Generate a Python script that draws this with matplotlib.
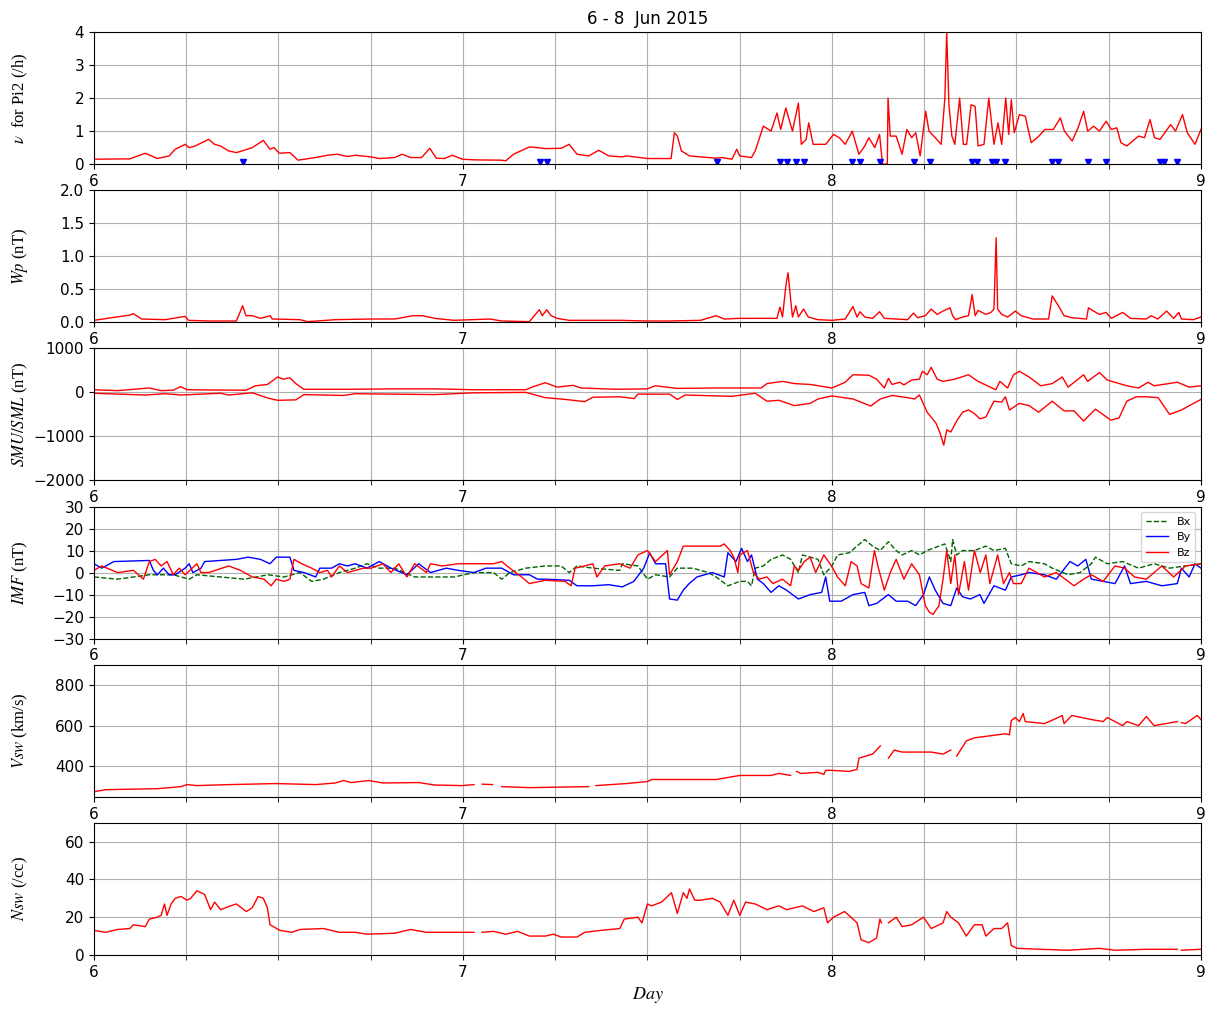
import numpy as np
import matplotlib
matplotlib.use("Agg")
import matplotlib.pyplot as plt
from matplotlib.ticker import MultipleLocator

nan = np.nan

# Pi2 occurrence rate (/h)
nu_t = [6.000, 6.097, 6.139, 6.172, 6.204, 6.220, 6.247, 6.258, 6.274, 6.311, 6.327, 6.343, 6.365,
        6.386, 6.401, 6.429, 6.459, 6.477, 6.488, 6.502, 6.531, 6.553, 6.601, 6.633, 6.660, 6.687,
        6.708, 6.751, 6.773, 6.815, 6.835, 6.858, 6.888, 6.910, 6.928, 6.950, 6.971, 6.998, 7.030,
        7.105, 7.116, 7.137, 7.180, 7.202, 7.223, 7.266, 7.288, 7.309, 7.341, 7.368, 7.395, 7.432,
        7.443, 7.500, 7.564, 7.573, 7.581, 7.592, 7.614, 7.686, 7.702, 7.729, 7.742, 7.750, 7.782,
        7.792, 7.814, 7.835, 7.851, 7.861, 7.875, 7.893, 7.909, 7.917, 7.930, 7.937, 7.949, 7.962,
        7.983, 8.004, 8.020, 8.036, 8.055, 8.073, 8.089, 8.100, 8.116, 8.129, 8.137, 8.150, 8.152,
        8.158, 8.174, 8.190, 8.203, 8.216, 8.227, 8.239, 8.254, 8.263, 8.280, 8.296, 8.306, 8.311,
        8.317, 8.325, 8.333, 8.346, 8.356, 8.365, 8.377, 8.388, 8.396, 8.412, 8.425, 8.439, 8.450,
        8.460, 8.471, 8.479, 8.486, 8.494, 8.508, 8.524, 8.540, 8.561, 8.577, 8.600, 8.619, 8.630,
        8.651, 8.667, 8.682, 8.693, 8.709, 8.725, 8.743, 8.757, 8.772, 8.783, 8.799, 8.831, 8.847,
        8.862, 8.874, 8.889, 8.918, 8.931, 8.950, 8.963, 8.984, 9.000]
nu_v = [0.15, 0.16, 0.33, 0.17, 0.25, 0.45, 0.60, 0.50, 0.55, 0.75, 0.60, 0.55, 0.40,
        0.35, 0.40, 0.50, 0.72, 0.45, 0.50, 0.33, 0.35, 0.12, 0.20, 0.27, 0.30, 0.23,
        0.27, 0.22, 0.17, 0.20, 0.30, 0.20, 0.20, 0.48, 0.18, 0.17, 0.27, 0.15, 0.13,
        0.12, 0.10, 0.30, 0.52, 0.50, 0.47, 0.48, 0.60, 0.30, 0.25, 0.42, 0.25, 0.22,
        0.25, 0.17, 0.17, 0.95, 0.85, 0.40, 0.25, 0.18, 0.20, 0.15, 0.45, 0.25, 0.20,
        0.40, 1.15, 1.00, 1.55, 1.05, 1.70, 1.00, 1.85, 0.60, 0.75, 1.25, 0.60, 0.60,
        0.60, 0.90, 0.80, 0.60, 1.00, 0.30, 0.55, 0.80, 0.50, 0.90, 0.00, 0.00, 2.00,
        0.85, 0.85, 0.30, 1.05, 0.80, 0.95, 0.25, 1.60, 1.00, 0.80, 0.60, 2.00, 4.00,
        1.80, 0.85, 0.60, 2.00, 0.60, 0.60, 1.80, 1.75, 0.55, 0.60, 2.00, 0.60, 1.25,
        0.60, 2.00, 0.90, 1.95, 0.95, 1.50, 1.45, 0.65, 0.85, 1.05, 1.05, 1.40, 1.00,
        0.70, 1.10, 1.60, 1.00, 1.15, 1.00, 1.30, 1.05, 1.10, 0.65, 0.55, 0.85, 0.80,
        1.35, 0.80, 0.75, 1.20, 1.00, 1.50, 0.95, 0.60, 1.05]

# Pi2 onsets (blue triangles)
pi2_onsets = [6.403, 7.209, 7.228, 7.688, 7.860, 7.878, 7.902, 7.924, 8.054, 8.076, 8.130,
              8.221, 8.265, 8.380, 8.393, 8.433, 8.445, 8.470, 8.597, 8.612, 8.693, 8.743,
              8.888, 8.899, 8.935]
onset_level = 0.08

# Wp index (nT)
wp_t = [6.000, 6.097, 6.107, 6.129, 6.193, 6.247, 6.256, 6.311, 6.386, 6.403, 6.412, 6.429, 6.451,
        6.478, 6.483, 6.558, 6.579, 6.654, 6.751, 6.815, 6.864, 6.891, 6.923, 6.976, 7.073, 7.105,
        7.180, 7.207, 7.215, 7.227, 7.239, 7.255, 7.288, 7.427, 7.496, 7.560, 7.644, 7.686, 7.708,
        7.750, 7.851, 7.859, 7.866, 7.875, 7.881, 7.888, 7.893, 7.902, 7.909, 7.923, 7.936, 7.962,
        8.000, 8.036, 8.057, 8.068, 8.076, 8.089, 8.110, 8.129, 8.142, 8.174, 8.205, 8.221, 8.232,
        8.253, 8.269, 8.285, 8.301, 8.320, 8.327, 8.335, 8.354, 8.370, 8.380, 8.388, 8.396, 8.417,
        8.431, 8.439, 8.445, 8.449, 8.460, 8.476, 8.497, 8.513, 8.544, 8.587, 8.597, 8.619, 8.629,
        8.650, 8.690, 8.695, 8.709, 8.725, 8.743, 8.757, 8.788, 8.809, 8.852, 8.865, 8.883, 8.907,
        8.926, 8.940, 8.947, 8.979, 9.000]
wp_v = [0.03, 0.11, 0.13, 0.05, 0.04, 0.09, 0.03, 0.02, 0.02, 0.25, 0.10, 0.10, 0.06,
        0.10, 0.05, 0.04, 0.01, 0.04, 0.05, 0.05, 0.10, 0.10, 0.06, 0.03, 0.05, 0.02,
        0.01, 0.19, 0.10, 0.19, 0.10, 0.06, 0.03, 0.03, 0.02, 0.02, 0.03, 0.10, 0.05,
        0.06, 0.06, 0.23, 0.08, 0.55, 0.75, 0.35, 0.08, 0.25, 0.08, 0.20, 0.08, 0.04,
        0.03, 0.05, 0.24, 0.08, 0.16, 0.08, 0.06, 0.16, 0.06, 0.05, 0.04, 0.14, 0.07,
        0.10, 0.20, 0.12, 0.17, 0.22, 0.10, 0.04, 0.08, 0.10, 0.42, 0.10, 0.18, 0.12,
        0.15, 0.20, 1.28, 0.20, 0.12, 0.08, 0.17, 0.10, 0.05, 0.05, 0.40, 0.20, 0.10,
        0.07, 0.05, 0.22, 0.17, 0.12, 0.15, 0.06, 0.15, 0.06, 0.05, 0.10, 0.05, 0.17,
        0.06, 0.15, 0.05, 0.04, 0.08]

# SMU / SML (nT)
smu_t = [6.000, 6.064, 6.150, 6.182, 6.215, 6.234, 6.253, 6.386, 6.412, 6.438, 6.470, 6.498, 6.513,
         6.531, 6.547, 6.569, 6.687, 6.815, 6.923, 7.030, 7.170, 7.191, 7.223, 7.255, 7.298, 7.320,
         7.416, 7.500, 7.521, 7.581, 7.686, 7.808, 7.824, 7.866, 7.898, 7.941, 8.000, 8.036, 8.057,
         8.100, 8.121, 8.142, 8.153, 8.163, 8.184, 8.195, 8.216, 8.237, 8.245, 8.258, 8.269, 8.285,
         8.301, 8.333, 8.370, 8.396, 8.444, 8.455, 8.476, 8.492, 8.508, 8.534, 8.566, 8.597, 8.624,
         8.640, 8.682, 8.693, 8.725, 8.746, 8.799, 8.831, 8.857, 8.873, 8.936, 8.968, 9.000]
smu_v = [60, 40, 100, 40, 50, 130, 60, 50, 50, 150, 180, 350, 300,
         330, 200, 70, 70, 80, 80, 60, 60, 130, 220, 120, 160, 100,
         70, 80, 150, 90, 100, 100, 200, 250, 200, 180, 100, 230, 400,
         390, 300, 100, 320, 180, 230, 170, 280, 300, 480, 400, 570, 300,
         250, 300, 400, 250, 60, 250, 100, 400, 480, 350, 150, 200, 350,
         120, 400, 250, 450, 280, 150, 100, 230, 150, 230, 120, 150]
sml_t = [6.000, 6.139, 6.193, 6.236, 6.343, 6.365, 6.429, 6.472, 6.498, 6.547, 6.569, 6.676, 6.708,
         6.923, 7.030, 7.170, 7.223, 7.266, 7.288, 7.330, 7.352, 7.425, 7.464, 7.474, 7.560, 7.581,
         7.602, 7.686, 7.729, 7.792, 7.824, 7.856, 7.898, 7.941, 7.962, 8.000, 8.057, 8.105, 8.131,
         8.163, 8.205, 8.224, 8.237, 8.258, 8.282, 8.292, 8.303, 8.311, 8.322, 8.338, 8.354, 8.370,
         8.386, 8.401, 8.417, 8.439, 8.460, 8.470, 8.481, 8.508, 8.534, 8.560, 8.597, 8.629, 8.656,
         8.682, 8.714, 8.756, 8.778, 8.799, 8.825, 8.852, 8.884, 8.915, 8.947, 9.000]
sml_v = [-20, -60, -30, -60, -20, -60, -10, -130, -180, -170, -50, -70, -30,
         -50, -10, 0, -120, -150, -170, -210, -110, -100, -140, -40, -40, -160,
         -60, -80, -90, -20, -200, -180, -300, -250, -150, -80, -150, -310, -150,
         -70, -120, -150, -60, -450, -700, -900, -1200, -850, -900, -650, -450, -400,
         -480, -600, -560, -200, -220, -100, -400, -250, -300, -450, -200, -420, -420,
         -650, -380, -630, -580, -200, -100, -100, -120, -500, -400, -160]

# IMF components (nT)
bx_t = [6.000, 6.064, 6.150, 6.215, 6.258, 6.279, 6.343, 6.407, 6.472, 6.515, 6.558, 6.590, 6.622,
        6.665, 6.708, 6.740, 6.773, 6.815, 6.869, 6.923, 6.976, 7.030, 7.083, 7.105, 7.127, 7.170,
        7.223, 7.266, 7.288, 7.309, 7.352, 7.425, 7.432, 7.474, 7.500, 7.522, 7.560, 7.581, 7.623,
        7.665, 7.686, 7.718, 7.750, 7.771, 7.782, 7.792, 7.814, 7.835, 7.866, 7.888, 7.909, 7.920,
        7.962, 7.978, 8.000, 8.015, 8.047, 8.068, 8.089, 8.110, 8.131, 8.153, 8.174, 8.190, 8.216,
        8.237, 8.258, 8.290, 8.306, 8.322, 8.327, 8.338, 8.354, 8.386, 8.417, 8.439, 8.470, 8.486,
        8.513, 8.534, 8.576, 8.597, 8.640, 8.672, 8.703, 8.714, 8.746, 8.788, 8.831, 8.873, 8.915,
        8.958, 9.000]
bx_v = [-2, -3, -1, -1, -3, -1, -2, -3, -1, -2, 0, -4, -3,
        0, 2, 4, 2, 2, -2, -2, -2, 0, 0, -3, 0, 2,
        3, 3, 0, 3, 2, 1, 4, 3, -3, -1, -2, 2, 2,
        0, -2, -6, -4, -4, -6, 2, 3, 6, 8, 6, 0, 8,
        6, -1, 3, 8, 9, 12, 15, 12, 10, 14, 10, 8, 10,
        8, 10, 12, 13, 5, 15, 8, 10, 10, 12, 10, 11, 4,
        3, 5, 4, 2, -1, 0, 4, 7, 4, 5, 2, 4, 2,
        3, 4]
by_t = [6.000, 6.021, 6.054, 6.150, 6.161, 6.172, 6.188, 6.204, 6.220, 6.247, 6.258, 6.268, 6.290,
        6.300, 6.386, 6.418, 6.451, 6.477, 6.494, 6.531, 6.542, 6.569, 6.601, 6.612, 6.644, 6.665,
        6.687, 6.708, 6.740, 6.773, 6.805, 6.848, 6.880, 6.912, 6.955, 6.987, 7.030, 7.062, 7.105,
        7.137, 7.180, 7.202, 7.223, 7.288, 7.309, 7.352, 7.395, 7.432, 7.463, 7.490, 7.506, 7.522,
        7.549, 7.560, 7.581, 7.597, 7.613, 7.634, 7.655, 7.676, 7.708, 7.718, 7.740, 7.755, 7.771,
        7.782, 7.798, 7.814, 7.835, 7.856, 7.877, 7.909, 7.941, 7.972, 7.983, 7.994, 8.025, 8.057,
        8.089, 8.100, 8.121, 8.153, 8.174, 8.205, 8.227, 8.248, 8.264, 8.280, 8.301, 8.322, 8.338,
        8.354, 8.375, 8.401, 8.412, 8.439, 8.470, 8.486, 8.513, 8.534, 8.576, 8.608, 8.645, 8.666,
        8.688, 8.703, 8.735, 8.767, 8.793, 8.809, 8.852, 8.894, 8.936, 8.947, 8.968, 8.984, 9.000]
by_v = [4, 2, 5, 5.5, 1, -1, 2, -1, -1, 2, 4, 0, 2,
        5, 6, 7, 6, 4, 7, 7, 1, 0, -2, 2, 2, 4,
        3, 4, 2, 5, 2, -1, 4, 0, 2, 1, 0, 2, 2,
        -1, -1, -3, -3, -3.5, -6, -6, -5.5, -6.5, -4, 2, 9, 4,
        4, -12, -12.5, -8, -5, -2, -1, 0, -2, 9, 5, 11, 5,
        8, -3, -5, -9, -6, -8, -12, -10, -9, -2, -13, -13, -10,
        -9, -15, -14, -10, -13, -13, -15, -10, -2, -8, -14, -15, -7,
        -11, -12, -10, -14, -6, -8, -2, -1, 0, -1, -3, 5, 3,
        6, -3, -4, -5, 3, -5, -4, -6, -5, 2, -2, 4, 2]
bz_t = [6.000, 6.021, 6.064, 6.107, 6.134, 6.150, 6.166, 6.182, 6.198, 6.215, 6.231, 6.247, 6.279,
        6.290, 6.311, 6.365, 6.397, 6.429, 6.461, 6.480, 6.494, 6.515, 6.531, 6.542, 6.563, 6.590,
        6.612, 6.633, 6.644, 6.665, 6.687, 6.730, 6.751, 6.783, 6.805, 6.826, 6.848, 6.869, 6.901,
        6.912, 6.944, 6.987, 7.030, 7.083, 7.105, 7.127, 7.159, 7.180, 7.223, 7.277, 7.293, 7.304,
        7.330, 7.352, 7.363, 7.384, 7.425, 7.453, 7.474, 7.500, 7.522, 7.554, 7.560, 7.581, 7.597,
        7.644, 7.697, 7.708, 7.724, 7.734, 7.745, 7.750, 7.771, 7.787, 7.803, 7.824, 7.840, 7.866,
        7.888, 7.898, 7.909, 7.925, 7.941, 7.956, 7.978, 7.999, 8.015, 8.036, 8.052, 8.068, 8.079,
        8.100, 8.115, 8.126, 8.142, 8.158, 8.174, 8.195, 8.216, 8.237, 8.253, 8.264, 8.274, 8.290,
        8.301, 8.311, 8.322, 8.333, 8.343, 8.359, 8.370, 8.386, 8.402, 8.417, 8.428, 8.449, 8.465,
        8.481, 8.492, 8.513, 8.534, 8.576, 8.608, 8.640, 8.656, 8.682, 8.703, 8.735, 8.767, 8.793,
        8.820, 8.852, 8.894, 8.926, 8.958, 9.000]
bz_v = [1, 3, 0, 1, -3, 5, 6, 3, 5, -1, 2, -1, 4,
        0, 0, 3, 1, -2, -3, -6, -3, -4, -3, 6, 4, 2,
        0, 1, -2, 3, 0, 2, 2, 4, 0, 4, -2, 4, 0,
        4, 3, 4, 4, 4, 5, 2, -2, -5, -3.5, -4, -6, 2,
        3, 4, -2, 3, 4, 2, 8, 10, 5, 10, -1, 5, 12,
        12, 12, 13, 10, 7, 0, 8, 10, 0, -3, -2, -5, -3,
        -6, 3, 1, 5, 7, 0, 8, 3, -2, -6, 5, 3, -5,
        -7, 10, 2, -8, 0, 6, -3, 4, -1, -15, -18, -19, -15,
        -3, 10, -5, 8, -10, 5, -8, 10, 0, 8, -5, 8, -5,
        0, -5, -5, 2, -2, 0, -4, -6, -3, -1, -4, 3, 2,
        -2, -3, 3, -2, 3, 4]

# Solar wind speed (km/s)
vsw_t = [6.000, 6.032, 6.172, 6.236, 6.252, 6.279, 6.365, 6.494, 6.601, 6.654, 6.676, 6.697, 6.745,
         6.783, 6.880, 6.923, 6.998, 7.030, 7.040, 7.052, 7.080, 7.090, 7.105, 7.180, 7.341, 7.350,
         7.360, 7.416, 7.443, 7.500, 7.511, 7.581, 7.686, 7.718, 7.750, 7.835, 7.856, 7.888, 7.896,
         7.904, 7.915, 7.962, 7.978, 7.983, 8.000, 8.047, 8.068, 8.073, 8.110, 8.131, 8.140, 8.153,
         8.169, 8.190, 8.216, 8.269, 8.301, 8.322, 8.330, 8.338, 8.364, 8.386, 8.428, 8.470, 8.481,
         8.486, 8.497, 8.508, 8.518, 8.524, 8.576, 8.613, 8.624, 8.629, 8.650, 8.703, 8.735, 8.746,
         8.767, 8.788, 8.799, 8.831, 8.852, 8.873, 8.936, 8.940, 8.947, 8.958, 8.990, 9.000]
vsw_v = [275, 285, 290, 300, 310, 305, 310, 315, 310, 318, 330, 320, 330,
         318, 320, 308, 305, 310, nan, 312, 310, nan, 300, 295, 300, nan,
         305, 312, 315, 325, 335, 335, 335, 345, 355, 355, 365, 355, nan,
         375, 365, 370, 360, 380, 380, 375, 385, 440, 460, 500, nan, 440,
         480, 470, 470, 470, 460, 480, nan, 450, 525, 540, 550, 560, 555,
         625, 640, 620, 660, 620, 610, 640, 650, 610, 650, 630, 620, 640,
         620, 600, 620, 600, 645, 600, 620, nan, 615, 610, 650, 630]

# Solar wind density (/cc)
nsw_t = [6.000, 6.032, 6.064, 6.097, 6.107, 6.139, 6.150, 6.172, 6.182, 6.191, 6.198, 6.209, 6.220,
         6.236, 6.252, 6.262, 6.279, 6.300, 6.316, 6.327, 6.343, 6.370, 6.386, 6.413, 6.429, 6.445,
         6.459, 6.470, 6.477, 6.504, 6.536, 6.558, 6.622, 6.665, 6.708, 6.740, 6.815, 6.858, 6.901,
         6.998, 7.030, 7.040, 7.052, 7.083, 7.116, 7.148, 7.180, 7.223, 7.245, 7.266, 7.309, 7.330,
         7.373, 7.425, 7.437, 7.474, 7.485, 7.500, 7.511, 7.538, 7.565, 7.581, 7.597, 7.607, 7.614,
         7.628, 7.644, 7.676, 7.697, 7.718, 7.734, 7.750, 7.766, 7.792, 7.824, 7.856, 7.877, 7.920,
         7.951, 7.978, 7.988, 8.004, 8.034, 8.057, 8.068, 8.079, 8.100, 8.121, 8.130, 8.134, 8.142,
         8.153, 8.174, 8.190, 8.216, 8.248, 8.269, 8.301, 8.311, 8.322, 8.343, 8.364, 8.386, 8.407,
         8.417, 8.439, 8.460, 8.476, 8.486, 8.502, 8.566, 8.640, 8.725, 8.767, 8.852, 8.936, 8.940,
         8.947, 9.000]
nsw_v = [13, 12, 13.5, 14, 16, 15, 19, 20, 21, 27, 21, 27, 30,
         31, 29, 30, 34, 32, 24, 28, 24, 26, 27, 23, 25, 31,
         30, 25, 16, 13, 12, 13.5, 14, 12, 12, 11, 11.5, 13.5, 12,
         12, 12, nan, 12, 12.5, 11, 12.5, 10, 10, 11, 9.5, 9.5, 12,
         13, 14, 19, 20, 17, 27, 26, 28, 33, 22, 33, 30, 35,
         29, 29, 30, 28, 21, 29, 21, 28, 27, 24, 26, 24, 26,
         23, 25, 17, 20, 23, 19, 17, 8, 6.5, 9, 19, 17, nan,
         17, 20, 15, 16, 20, 14, 17, 23, 20, 17, 10, 16, 16,
         10, 14, 14, 17, 5, 3.5, 3, 2.5, 3.5, 2.5, 3, 3, nan,
         2.5, 3]

plt.rcParams['mathtext.fontset'] = 'stix'
plt.rcParams['font.serif'] = ['Liberation Serif', 'DejaVu Serif']
plt.rcParams['font.size'] = 11

fig, axes = plt.subplots(6, 1, figsize=(12.11, 10.10), dpi=100)
fig.subplots_adjust(left=0.0776, right=0.9917, top=0.9683, bottom=0.0545, hspace=0.197)

lab_kw = dict(fontsize=12, family='serif')

ax = axes[0]
ax.plot(nu_t, nu_v, color='red', lw=1)
ax.plot(pi2_onsets, [onset_level] * len(pi2_onsets), 'v', color='blue', ms=5, lw=0)
ax.set_ylim(0, 4)
ax.set_yticks([0, 1, 2, 3, 4])
ax.set_ylabel(r'$\nu$  for Pi2 (/h)', **lab_kw)
ax.set_title('6 - 8  Jun 2015', fontsize=12)

ax = axes[1]
ax.plot(wp_t, wp_v, color='red', lw=1)
ax.set_ylim(0, 2)
ax.set_yticks([0.0, 0.5, 1.0, 1.5, 2.0])
ax.set_ylabel(r'$Wp$ (nT)', **lab_kw)

ax = axes[2]
ax.plot(smu_t, smu_v, color='red', lw=1)
ax.plot(sml_t, sml_v, color='red', lw=1)
ax.set_ylim(-2000, 1000)
ax.set_yticks([-2000, -1000, 0, 1000])
ax.set_ylabel(r'$SMU/SML$ (nT)', **lab_kw)

ax = axes[3]
ax.plot(bx_t, bx_v, '--', color='darkgreen', lw=1, label='Bx')
ax.plot(by_t, by_v, color='blue', lw=1, label='By')
ax.plot(bz_t, bz_v, color='red', lw=1, label='Bz')
ax.set_ylim(-30, 30)
ax.set_yticks(range(-30, 31, 10))
ax.set_ylabel(r'$IMF$ (nT)', **lab_kw)
ax.legend(loc='upper right', fontsize=8)

ax = axes[4]
ax.plot(vsw_t, vsw_v, color='red', lw=1)
ax.set_ylim(250, 900)
ax.set_yticks([400, 600, 800])
ax.set_ylabel(r'$Vsw$ (km/s)', **lab_kw)

ax = axes[5]
ax.plot(nsw_t, nsw_v, color='red', lw=1)
ax.set_ylim(0, 70)
ax.set_yticks([0, 20, 40, 60])
ax.set_ylabel(r'$Nsw$ (/cc)', **lab_kw)
ax.set_xlabel(r'$Day$', fontsize=13)

for ax in axes:
    ax.set_xlim(6, 9)
    ax.xaxis.set_major_locator(MultipleLocator(1))
    ax.xaxis.set_minor_locator(MultipleLocator(0.25))
    ax.tick_params(which='minor', length=3.5)
    ax.grid(True, which='major', color='#b0b0b0', lw=0.8)
    ax.grid(True, which='minor', axis='x', color='#b0b0b0', lw=0.8)
    ax.yaxis.set_label_coords(-0.058, 0.5)

plt.savefig('out.png', dpi=100)
